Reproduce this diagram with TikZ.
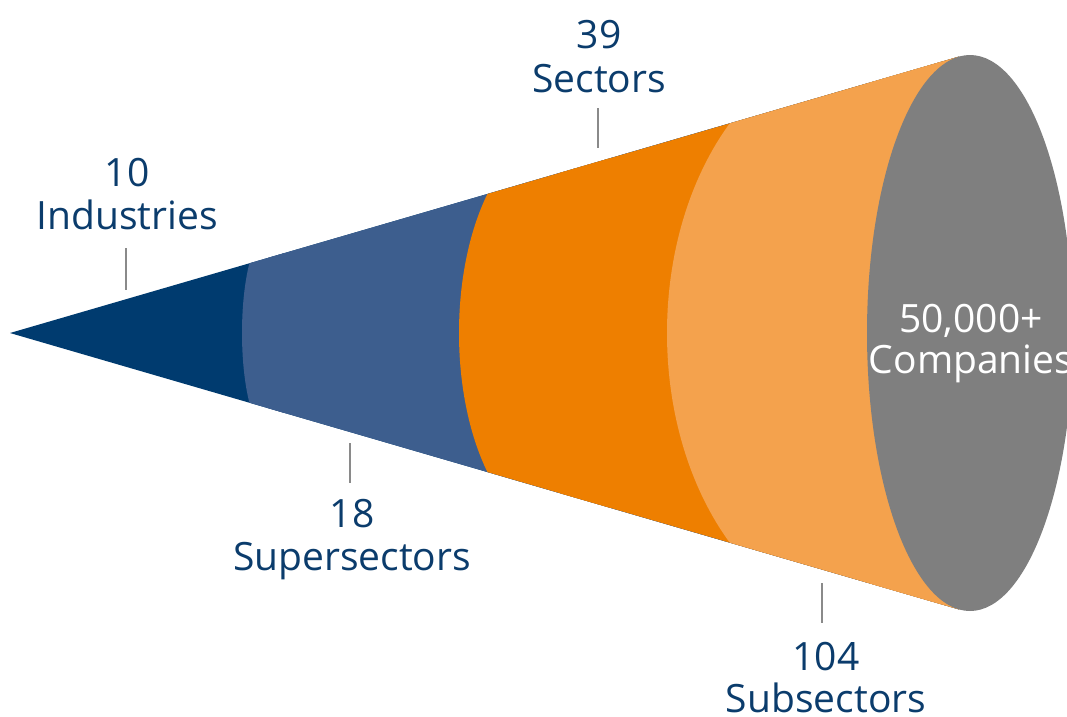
\documentclass[tikz,border=0pt]{standalone}
\usepackage{fontspec}
\setmainfont{Open Sans}
\definecolor{navy}{HTML}{003B6F}
\definecolor{midblue}{HTML}{3D5E8E}
\definecolor{deeporange}{HTML}{EE7F00}
\definecolor{lightorange}{HTML}{F4A24D}
\definecolor{coregray}{HTML}{7F7F7F}
\definecolor{textblue}{HTML}{0B3C6C}
\definecolor{tickgray}{HTML}{8A8A8A}
\tikzset{
  lbl/.style={anchor=base, inner sep=0pt, text=textblue, font=\fontsize{39}{43}\selectfont},
  corelbl/.style={anchor=base, inner sep=0pt, text=white, font=\fontsize{39}{43}\selectfont},
  tick/.style={draw=tickgray, line width=1.5pt}
}
\begin{document}
\begin{tikzpicture}[x=1pt,y=-1pt]
\useasboundingbox (0,0) rectangle (1067,716);
\clip (0,0) rectangle (1067,716);
% cone outline points
\coordinate (apex) at (10,333);
\coordinate (tr) at (959,56.6);
\coordinate (br) at (959,609.4);
\fill[navy] (apex) -- (tr) -- (br) -- cycle;
\begin{scope}
  \clip (apex) -- (tr) -- (br) -- cycle;
  \fill[midblue] (268,333) ellipse [x radius=26, y radius=100];
  \fill[midblue] (268,0) rectangle (1100,716);
  \fill[deeporange] (560,333) ellipse [x radius=101, y radius=200];
  \fill[deeporange] (560,0) rectangle (1100,716);
  \fill[lightorange] (870,333) ellipse [x radius=203, y radius=290];
  \fill[lightorange] (870,0) rectangle (1100,716);
\end{scope}
\fill[coregray] (970,333) ellipse [x radius=103, y radius=278];
% labels
\node[lbl] (n10) at (127,186) {10};
\node[lbl] (ind) at (127,229) {Industries};
\node[lbl] (n39) at (599,48) {39};
\node[lbl] (sec) at (599,92) {Sectors};
\node[lbl] (n18) at (352,527) {18};
\node[lbl] (sup) at (352,570) {Supersectors};
\node[lbl] (n104) at (826,670) {104};
\node[lbl] (sub) at (826,712) {Subsectors};
\node[corelbl] (n50k) at (971,332) {50,000+};
\node[corelbl] (comp) at (971,373) {Companies};
% ticks
\coordinate (t1a) at (126,248); \coordinate (t1b) at (126,290);
\coordinate (t2a) at (598,108); \coordinate (t2b) at (598,148);
\coordinate (t3a) at (350,443); \coordinate (t3b) at (350,483);
\coordinate (t4a) at (822,583); \coordinate (t4b) at (822,623);
\draw[tick] (t1a) -- (t1b);
\draw[tick] (t2a) -- (t2b);
\draw[tick] (t3a) -- (t3b);
\draw[tick] (t4a) -- (t4b);
\end{tikzpicture}
\end{document}
